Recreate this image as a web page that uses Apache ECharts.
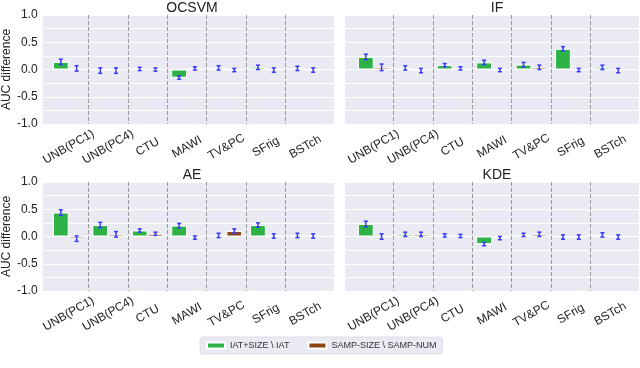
<!DOCTYPE html>
<html>
<head>
<meta charset="utf-8">
<script src="https://cdn.jsdelivr.net/npm/echarts@6/dist/echarts.min.js"></script>
<style>
    html, body { margin: 0; padding: 0; background: #fff; }
    #main { width: 640px; height: 368px; }
</style>
</head>
<body>
<div id="main"></div>
<script>
// 数据
const categories = ['UNB(PC1)', 'UNB(PC4)', 'CTU', 'MAWI', 'TV&PC', 'SFrig', 'BSTch']
const greenName = 'IAT+SIZE \\ IAT'
const brownName = 'SAMP-SIZE \\ SAMP-NUM'

const ocsvmGreen = [0.14, -0.02, 0.01, -0.15, 0.03, 0.04, 0.02]
const ocsvmGreenErr = [0.05, 0.05, 0.03, 0.03, 0.04, 0.04, 0.04]
const ocsvmBrown = [0.02, -0.02, 0.0, 0.02, -0.01, -0.01, -0.01]
const ocsvmBrownErr = [0.05, 0.05, 0.03, 0.03, 0.03, 0.04, 0.04]

const ifGreen = [0.23, 0.03, 0.08, 0.13, 0.09, 0.38, 0.04]
const ifGreenErr = [0.05, 0.04, 0.03, 0.04, 0.04, 0.04, 0.04]
const ifBrown = [0.04, -0.02, 0.02, -0.01, 0.04, -0.01, -0.02]
const ifBrownErr = [0.06, 0.04, 0.03, 0.03, 0.04, 0.03, 0.04]

const aeGreen = [0.44, 0.21, 0.11, 0.2, 0.02, 0.21, 0.02]
const aeGreenErr = [0.05, 0.05, 0.03, 0.04, 0.04, 0.04, 0.04]
const aeBrown = [-0.04, 0.04, 0.05, -0.02, 0.1, 0.01, 0.01]
const aeBrownErr = [0.05, 0.05, 0.03, 0.03, 0.04, 0.04, 0.04]

const kdeGreen = [0.23, 0.04, 0.02, -0.14, 0.03, -0.01, 0.03]
const kdeGreenErr = [0.05, 0.04, 0.03, 0.03, 0.03, 0.04, 0.04]
const kdeBrown = [0.0, 0.04, 0.01, -0.03, 0.04, -0.01, -0.01]
const kdeBrownErr = [0.05, 0.04, 0.03, 0.03, 0.04, 0.04, 0.04]

const yTicks = [-1, -0.5, 0, 0.5, 1]

const panels = [
    { title: 'OCSVM', left: 40, top: 15, yLabels: true, green: ocsvmGreen, greenErr: ocsvmGreenErr, brown: ocsvmBrown, brownErr: ocsvmBrownErr },
    { title: 'IF', left: 345, top: 15, yLabels: false, green: ifGreen, greenErr: ifGreenErr, brown: ifBrown, brownErr: ifBrownErr },
    { title: 'AE', left: 40, top: 182, yLabels: true, green: aeGreen, greenErr: aeGreenErr, brown: aeBrown, brownErr: aeBrownErr },
    { title: 'KDE', left: 345, top: 182, yLabels: false, green: kdeGreen, greenErr: kdeGreenErr, brown: kdeBrown, brownErr: kdeBrownErr }
]

const font = 'Liberation Sans, Arial, sans-serif'
const plotW = 294
const plotH = 109
const pad = 9

const option = {
    animation: false,
    textStyle: { fontFamily: font },
    title: [],
    grid: [],
    xAxis: [],
    yAxis: [],
    series: [],
    legend: {
        left: 200,
        top: 337,
        data: [greenName, brownName],
        icon: 'rect',
        itemWidth: 18,
        itemHeight: 6,
        itemGap: 18,
        padding: [4, 6],
        backgroundColor: '#EAEAF2',
        borderColor: '#dddde6',
        borderWidth: 1,
        borderRadius: 3,
        textStyle: { fontSize: 9, color: '#333', fontFamily: font }
    }
}

panels.forEach((p, i) => {
    const bg = i * 2
    const dg = i * 2 + 1
    option.title.push({
        text: p.title,
        left: p.left + plotW / 2,
        top: p.top - 19,
        textAlign: 'center',
        textStyle: { fontSize: 14, fontWeight: 'normal', color: '#222', fontFamily: font }
    })
    // 背景网格
    option.grid.push({
        left: p.left, top: p.top, width: plotW, height: plotH,
        show: true, backgroundColor: '#EAEAF2', borderWidth: 0
    })
    // 数据网格
    option.grid.push({
        left: p.left + pad, top: p.top, width: plotW - pad * 2, height: plotH
    })
    option.xAxis.push({ type: 'value', gridIndex: bg, show: false })
    option.xAxis.push({
        type: 'category',
        gridIndex: dg,
        data: categories,
        boundaryGap: true,
        axisLine: { show: false },
        axisTick: { show: false },
        axisLabel: {
            rotate: 30, align: 'center', verticalAlign: 'middle', margin: 23,
            fontSize: 12, color: '#222', fontFamily: font
        },
        splitLine: {
            show: true, showMinLine: false, showMaxLine: false,
            lineStyle: { color: '#9a9a9a', type: 'dashed', width: 1 }
        }
    })
    option.yAxis.push({
        type: 'value',
        gridIndex: bg,
        min: yTicks[0],
        max: yTicks[yTicks.length - 1],
        interval: 0.5,
        name: p.yLabels ? 'AUC difference' : '',
        nameLocation: 'middle',
        nameRotate: 90,
        nameGap: 29,
        nameTextStyle: { fontSize: 12, color: '#222', fontFamily: font },
        axisLine: { show: false },
        axisTick: { show: false },
        axisLabel: {
            show: p.yLabels, fontSize: 12, color: '#222', margin: 5,
            formatter: v => v.toFixed(1)
        },
        splitLine: { lineStyle: { color: '#fff', width: 1 } },
        minorTick: { show: false, splitNumber: 2 },
        minorSplitLine: { show: true, lineStyle: { color: '#fff', width: 1 } }
    })
    option.yAxis.push({ type: 'value', gridIndex: dg, min: -1, max: 1, show: false })

    const barCommon = {
        type: 'bar',
        xAxisIndex: dg,
        yAxisIndex: dg,
        barWidth: '40%',
        barGap: '0%',
        z: 3
    }
    option.series.push({
        ...barCommon,
        name: greenName,
        data: p.green,
        itemStyle: { color: '#2CB245', borderColor: '#fff', borderWidth: 1 }
    })
    option.series.push({
        ...barCommon,
        name: brownName,
        data: p.brown,
        itemStyle: { color: '#8B4513', borderColor: '#fff', borderWidth: 1 }
    })
    // 误差线
    const errData = []
    categories.forEach((c, k) => {
        errData.push([k, p.green[k], p.greenErr[k], -1])
        errData.push([k, p.brown[k], p.brownErr[k], 1])
    })
    option.series.push({
        type: 'custom',
        xAxisIndex: dg,
        yAxisIndex: dg,
        z: 5,
        silent: true,
        data: errData,
        renderItem: (params, api) => {
            const k = api.value(0)
            const v = api.value(1)
            const e = api.value(2)
            const side = api.value(3)
            const w = api.size([1, 0])[0]
            const cx = api.coord([k, v])[0] + side * w * 0.2
            const y1 = api.coord([k, v + e])[1]
            const y2 = api.coord([k, v - e])[1]
            const style = { stroke: '#3a3aff', lineWidth: 1.5 }
            return {
                type: 'group',
                children: [
                    { type: 'line', shape: { x1: cx, y1: y1, x2: cx, y2: y2 }, style },
                    { type: 'line', shape: { x1: cx - 2, y1: y1, x2: cx + 2, y2: y1 }, style },
                    { type: 'line', shape: { x1: cx - 2, y1: y2, x2: cx + 2, y2: y2 }, style }
                ]
            }
        }
    })
})

const myChart = echarts.init(document.getElementById('main'))
myChart.setOption(option)
</script>
</body>
</html>
